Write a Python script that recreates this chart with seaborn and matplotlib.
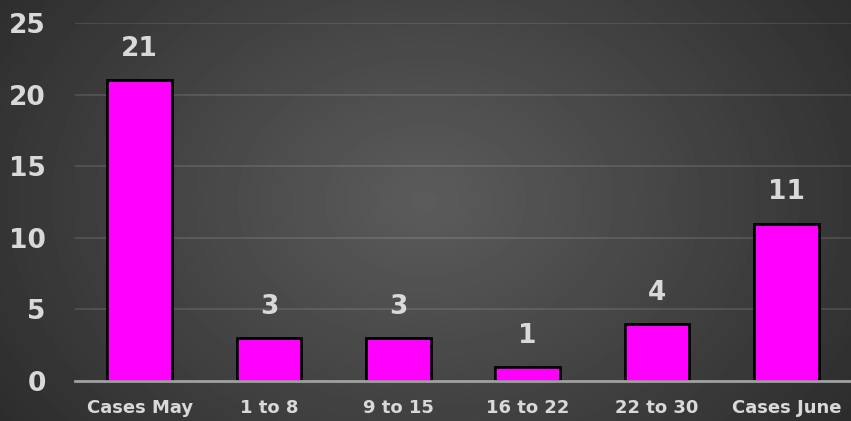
import matplotlib
matplotlib.use('Agg')
import matplotlib.pyplot as plt
import seaborn as sns
import numpy as np
import pandas as pd

categories = ['Cases May', '1 to 8', '9 to 15', '16 to 22', '22 to 30', 'Cases June']
cases = [21, 3, 3, 1, 4, 11]
y_ticks = [0, 5, 10, 15, 20, 25]

df = pd.DataFrame({'period': categories, 'cases': cases})

sns.set_style('white')
plt.rcParams['font.family'] = ['DejaVu Sans']
text_color = '#d9d9d9'

fig = plt.figure(figsize=(8.51, 4.21), dpi=100)

# radial dark-gray gradient background
bg = fig.add_axes([0, 0, 1, 1], zorder=0)
yy, xx = np.mgrid[0:421, 0:851]
r = np.sqrt(((xx - 425) / 560) ** 2 + ((yy - 200) / 420) ** 2)
shade = np.clip(0.36 - 0.2 * r, 0.16, 0.36)
bg.imshow(shade, cmap='gray', vmin=0, vmax=1, aspect='auto', extent=[0, 1, 0, 1])
bg.axis('off')

ax = fig.add_axes([0.088, 0.095, 0.912, 0.85], zorder=1)
ax.patch.set_alpha(0)

sns.barplot(data=df, x='period', y='cases', color='#ff00ff', saturation=1,
            width=0.5, edgecolor='black', linewidth=2, ax=ax, zorder=3)

ax.set_ylim(0, 25)
ax.set_yticks(y_ticks)
ax.set_xlim(-0.5, len(categories) - 0.5)
ax.grid(axis='y', color='white', alpha=0.13, linewidth=1.2, zorder=0)
ax.set_axisbelow(True)
for s in ['top', 'right', 'left']:
    ax.spines[s].set_visible(False)
ax.spines['bottom'].set_color('#a0a0a0')
ax.spines['bottom'].set_linewidth(2)
ax.spines['bottom'].set_zorder(4)

ax.tick_params(axis='y', length=0, pad=21, labelsize=19, labelcolor=text_color)
ax.tick_params(axis='x', length=0, pad=13, labelsize=13, labelcolor=text_color)
for lbl in ax.get_yticklabels() + ax.get_xticklabels():
    lbl.set_fontweight('bold')
ax.set_xlabel('')
ax.set_ylabel('')

ax.bar_label(ax.containers[0], padding=13, fontsize=19, fontweight='bold', color=text_color)

fig.savefig('out.png', dpi=100)
